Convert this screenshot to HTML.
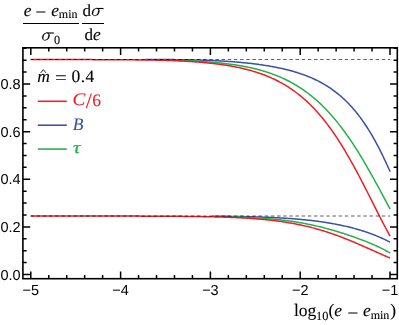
<!DOCTYPE html>
<html><head><meta charset="utf-8"><title>plot</title>
<style>html,body{margin:0;padding:0;background:#fff;width:399px;height:325px;overflow:hidden}body{position:relative;font-family:"Liberation Sans",sans-serif}</style>
</head><body>
<svg width="399" height="325" viewBox="0 0 399 325" style="position:absolute;left:0;top:0;will-change:transform;text-rendering:geometricPrecision">
<rect width="399" height="325" fill="#fff"/>
<path d="M145.0,59.53 L146.0,59.53 L147.0,59.53 L148.0,59.53 L149.0,59.53 L150.0,59.53 L151.0,59.54 L152.0,59.54 L153.0,59.54 L154.0,59.54 L155.0,59.54 L156.0,59.54 L157.0,59.54 L158.0,59.54 L159.0,59.54 L160.0,59.55 L161.0,59.55 L162.0,59.55 L163.0,59.55 L164.0,59.56 L165.0,59.56 L166.0,59.57 L167.0,59.57 L168.0,59.58 L169.0,59.59 L170.0,59.59 L171.0,59.60 L172.0,59.61 L173.0,59.62 L174.0,59.62 L175.0,59.63 L176.0,59.64 L177.0,59.65 L178.0,59.66 L179.0,59.67 L180.0,59.69 L181.0,59.70 L182.0,59.71 L183.0,59.73 L184.0,59.74 L185.0,59.75 L186.0,59.77 L187.0,59.79 L188.0,59.80 L189.0,59.82 L190.0,59.84 L191.0,59.86 L192.0,59.88 L193.0,59.90 L194.0,59.93 L195.0,59.95 L196.0,59.97 L197.0,60.00 L198.0,60.02 L199.0,60.05 L200.0,60.08 L201.0,60.11 L202.0,60.14 L203.0,60.17 L204.0,60.20 L205.0,60.24 L206.0,60.27 L207.0,60.31 L208.0,60.35 L209.0,60.39 L210.0,60.43 L211.0,60.47 L212.0,60.51 L213.0,60.56 L214.0,60.60 L215.0,60.65 L216.0,60.70 L217.0,60.75 L218.0,60.80 L219.0,60.85 L220.0,60.91 L221.0,60.96 L222.0,61.02 L223.0,61.08 L224.0,61.14 L225.0,61.20 L226.0,61.26 L227.0,61.33 L228.0,61.40 L229.0,61.47 L230.0,61.54 L231.0,61.61 L232.0,61.68 L233.0,61.76 L234.0,61.84 L235.0,61.92 L236.0,62.00 L237.0,62.09 L238.0,62.17 L239.0,62.26 L240.0,62.35 L241.0,62.44 L242.0,62.53 L243.0,62.63 L244.0,62.73 L245.0,62.83 L246.0,62.93 L247.0,63.04 L248.0,63.15 L249.0,63.26 L250.0,63.37 L251.0,63.48 L252.0,63.60 L253.0,63.72 L254.0,63.84 L255.0,63.97 L256.0,64.09 L257.0,64.22 L258.0,64.36 L259.0,64.49 L260.0,64.63 L261.0,64.77 L262.0,64.92 L263.0,65.07 L264.0,65.22 L265.0,65.37 L266.0,65.53 L267.0,65.69 L268.0,65.85 L269.0,66.02 L270.0,66.19 L271.0,66.37 L272.0,66.55 L273.0,66.73 L274.0,66.92 L275.0,67.11 L276.0,67.30 L277.0,67.50 L278.0,67.70 L279.0,67.91 L280.0,68.12 L281.0,68.34 L282.0,68.56 L283.0,68.79 L284.0,69.02 L285.0,69.25 L286.0,69.49 L287.0,69.74 L288.0,69.99 L289.0,70.25 L290.0,70.51 L291.0,70.78 L292.0,71.06 L293.0,71.34 L294.0,71.63 L295.0,71.92 L296.0,72.22 L297.0,72.53 L298.0,72.85 L299.0,73.17 L300.0,73.50 L301.0,73.84 L302.0,74.18 L303.0,74.53 L304.0,74.89 L305.0,75.26 L306.0,75.64 L307.0,76.03 L308.0,76.43 L309.0,76.83 L310.0,77.25 L311.0,77.67 L312.0,78.10 L313.0,78.55 L314.0,79.00 L315.0,79.47 L316.0,79.95 L317.0,80.44 L318.0,80.94 L319.0,81.45 L320.0,81.97 L321.0,82.51 L322.0,83.06 L323.0,83.62 L324.0,84.20 L325.0,84.79 L326.0,85.40 L327.0,86.01 L328.0,86.65 L329.0,87.30 L330.0,87.96 L331.0,88.64 L332.0,89.34 L333.0,90.05 L334.0,90.78 L335.0,91.53 L336.0,92.30 L337.0,93.08 L338.0,93.89 L339.0,94.71 L340.0,95.55 L341.0,96.41 L342.0,97.30 L343.0,98.20 L344.0,99.12 L345.0,100.07 L346.0,101.04 L347.0,102.03 L348.0,103.04 L349.0,104.08 L350.0,105.14 L351.0,106.23 L352.0,107.34 L353.0,108.47 L354.0,109.64 L355.0,110.82 L356.0,112.04 L357.0,113.28 L358.0,114.55 L359.0,115.85 L360.0,117.17 L361.0,118.53 L362.0,119.91 L363.0,121.32 L364.0,122.76 L365.0,124.24 L366.0,125.74 L367.0,127.28 L368.0,128.84 L369.0,130.44 L370.0,132.07 L371.0,133.73 L372.0,135.42 L373.0,137.15 L374.0,138.91 L375.0,140.70 L376.0,142.53 L377.0,144.39 L378.0,146.28 L379.0,148.20 L380.0,150.16 L381.0,152.15 L382.0,154.18 L383.0,156.24 L384.0,158.33 L385.0,160.45 L386.0,162.60 L387.0,164.79 L388.0,167.01 L389.0,169.26 L390.0,171.53 L390.1,171.76" fill="none" stroke="#3a51a4" stroke-width="1.5" stroke-linejoin="round"/>
<path d="M172.0,60.22 L173.0,60.24 L174.0,60.27 L175.0,60.30 L176.0,60.33 L177.0,60.36 L178.0,60.39 L179.0,60.42 L180.0,60.45 L181.0,60.49 L182.0,60.52 L183.0,60.56 L184.0,60.60 L185.0,60.64 L186.0,60.68 L187.0,60.72 L188.0,60.76 L189.0,60.80 L190.0,60.85 L191.0,60.89 L192.0,60.94 L193.0,60.99 L194.0,61.04 L195.0,61.09 L196.0,61.14 L197.0,61.20 L198.0,61.26 L199.0,61.31 L200.0,61.37 L201.0,61.43 L202.0,61.50 L203.0,61.56 L204.0,61.63 L205.0,61.70 L206.0,61.77 L207.0,61.84 L208.0,61.91 L209.0,61.99 L210.0,62.07 L211.0,62.15 L212.0,62.23 L213.0,62.31 L214.0,62.40 L215.0,62.49 L216.0,62.58 L217.0,62.68 L218.0,62.77 L219.0,62.87 L220.0,62.98 L221.0,63.08 L222.0,63.19 L223.0,63.30 L224.0,63.41 L225.0,63.53 L226.0,63.65 L227.0,63.77 L228.0,63.89 L229.0,64.02 L230.0,64.15 L231.0,64.29 L232.0,64.43 L233.0,64.57 L234.0,64.71 L235.0,64.86 L236.0,65.02 L237.0,65.17 L238.0,65.33 L239.0,65.50 L240.0,65.67 L241.0,65.84 L242.0,66.02 L243.0,66.20 L244.0,66.39 L245.0,66.58 L246.0,66.77 L247.0,66.97 L248.0,67.18 L249.0,67.39 L250.0,67.60 L251.0,67.82 L252.0,68.05 L253.0,68.28 L254.0,68.51 L255.0,68.76 L256.0,69.00 L257.0,69.26 L258.0,69.52 L259.0,69.78 L260.0,70.05 L261.0,70.33 L262.0,70.61 L263.0,70.91 L264.0,71.20 L265.0,71.51 L266.0,71.82 L267.0,72.14 L268.0,72.46 L269.0,72.80 L270.0,73.14 L271.0,73.49 L272.0,73.84 L273.0,74.21 L274.0,74.58 L275.0,74.96 L276.0,75.35 L277.0,75.75 L278.0,76.15 L279.0,76.57 L280.0,76.99 L281.0,77.43 L282.0,77.87 L283.0,78.32 L284.0,78.78 L285.0,79.26 L286.0,79.74 L287.0,80.23 L288.0,80.73 L289.0,81.25 L290.0,81.77 L291.0,82.31 L292.0,82.85 L293.0,83.41 L294.0,83.98 L295.0,84.56 L296.0,85.15 L297.0,85.76 L298.0,86.38 L299.0,87.01 L300.0,87.65 L301.0,88.30 L302.0,88.97 L303.0,89.65 L304.0,90.34 L305.0,91.05 L306.0,91.77 L307.0,92.51 L308.0,93.26 L309.0,94.02 L310.0,94.80 L311.0,95.59 L312.0,96.40 L313.0,97.22 L314.0,98.06 L315.0,98.91 L316.0,99.78 L317.0,100.66 L318.0,101.56 L319.0,102.48 L320.0,103.41 L321.0,104.36 L322.0,105.32 L323.0,106.31 L324.0,107.30 L325.0,108.32 L326.0,109.35 L327.0,110.40 L328.0,111.47 L329.0,112.55 L330.0,113.65 L331.0,114.77 L332.0,115.90 L333.0,117.06 L334.0,118.23 L335.0,119.42 L336.0,120.63 L337.0,121.85 L338.0,123.10 L339.0,124.36 L340.0,125.64 L341.0,126.94 L342.0,128.25 L343.0,129.59 L344.0,130.94 L345.0,132.31 L346.0,133.70 L347.0,135.11 L348.0,136.53 L349.0,137.98 L350.0,139.44 L351.0,140.91 L352.0,142.41 L353.0,143.92 L354.0,145.45 L355.0,147.00 L356.0,148.56 L357.0,150.14 L358.0,151.74 L359.0,153.35 L360.0,154.98 L361.0,156.63 L362.0,158.28 L363.0,159.96 L364.0,161.65 L365.0,163.35 L366.0,165.07 L367.0,166.80 L368.0,168.54 L369.0,170.29 L370.0,172.06 L371.0,173.84 L372.0,175.63 L373.0,177.43 L374.0,179.24 L375.0,181.06 L376.0,182.88 L377.0,184.72 L378.0,186.56 L379.0,188.41 L380.0,190.26 L381.0,192.12 L382.0,193.98 L383.0,195.84 L384.0,197.71 L385.0,199.58 L386.0,201.45 L387.0,203.32 L388.0,205.19 L389.0,207.05 L390.0,208.92 L390.1,209.10" fill="none" stroke="#25b04b" stroke-width="1.5" stroke-linejoin="round"/>
<path d="M30.8,59.53 L31.8,59.53 L32.8,59.53 L33.8,59.53 L34.8,59.53 L35.8,59.53 L36.8,59.53 L37.8,59.53 L38.8,59.53 L39.8,59.53 L40.8,59.53 L41.8,59.53 L42.8,59.54 L43.8,59.54 L44.8,59.54 L45.8,59.54 L46.8,59.54 L47.8,59.54 L48.8,59.54 L49.8,59.54 L50.8,59.54 L51.8,59.54 L52.8,59.55 L53.8,59.55 L54.8,59.55 L55.8,59.55 L56.8,59.55 L57.8,59.55 L58.8,59.55 L59.8,59.55 L60.8,59.56 L61.8,59.56 L62.8,59.56 L63.8,59.56 L64.8,59.56 L65.8,59.56 L66.8,59.57 L67.8,59.57 L68.8,59.57 L69.8,59.57 L70.8,59.57 L71.8,59.57 L72.8,59.58 L73.8,59.58 L74.8,59.58 L75.8,59.58 L76.8,59.58 L77.8,59.59 L78.8,59.59 L79.8,59.59 L80.8,59.59 L81.8,59.60 L82.8,59.60 L83.8,59.60 L84.8,59.60 L85.8,59.61 L86.8,59.61 L87.8,59.61 L88.8,59.61 L89.8,59.62 L90.8,59.62 L91.8,59.62 L92.8,59.63 L93.8,59.63 L94.8,59.63 L95.8,59.64 L96.8,59.64 L97.8,59.64 L98.8,59.65 L99.8,59.65 L100.8,59.66 L101.8,59.66 L102.8,59.66 L103.8,59.67 L104.8,59.67 L105.8,59.68 L106.8,59.68 L107.8,59.69 L108.8,59.69 L109.8,59.70 L110.8,59.70 L111.8,59.71 L112.8,59.71 L113.8,59.72 L114.8,59.72 L115.8,59.73 L116.8,59.73 L117.8,59.74 L118.8,59.75 L119.8,59.75 L120.8,59.76 L121.8,59.77 L122.8,59.77 L123.8,59.78 L124.8,59.79 L125.8,59.80 L126.8,59.80 L127.8,59.81 L128.8,59.82 L129.8,59.83 L130.8,59.84 L131.8,59.84 L132.8,59.85 L133.8,59.86 L134.8,59.87 L135.8,59.88 L136.8,59.89 L137.8,59.90 L138.8,59.91 L139.8,59.92 L140.8,59.93 L141.8,59.95 L142.8,59.96 L143.8,59.97 L144.8,59.98 L145.8,59.99 L146.8,60.01 L147.8,60.02 L148.8,60.03 L149.8,60.05 L150.8,60.06 L151.8,60.08 L152.8,60.09 L153.8,60.11 L154.8,60.12 L155.8,60.14 L156.8,60.15 L157.8,60.17 L158.8,60.19 L159.8,60.21 L160.8,60.22 L161.8,60.25 L162.8,60.28 L163.8,60.31 L164.8,60.34 L165.8,60.37 L166.8,60.40 L167.8,60.44 L168.8,60.47 L169.8,60.51 L170.8,60.54 L171.8,60.58 L172.8,60.62 L173.8,60.66 L174.8,60.70 L175.8,60.74 L176.8,60.78 L177.8,60.83 L178.8,60.88 L179.8,60.92 L180.8,60.97 L181.8,61.02 L182.8,61.07 L183.8,61.12 L184.8,61.18 L185.8,61.23 L186.8,61.29 L187.8,61.35 L188.8,61.41 L189.8,61.47 L190.8,61.54 L191.8,61.60 L192.8,61.67 L193.8,61.74 L194.8,61.81 L195.8,61.88 L196.8,61.96 L197.8,62.03 L198.8,62.11 L199.8,62.19 L200.8,62.28 L201.8,62.36 L202.8,62.45 L203.8,62.54 L204.8,62.63 L205.8,62.73 L206.8,62.82 L207.8,62.92 L208.8,63.02 L209.8,63.13 L210.8,63.24 L211.8,63.34 L212.8,63.46 L213.8,63.57 L214.8,63.69 L215.8,63.81 L216.8,63.94 L217.8,64.06 L218.8,64.19 L219.8,64.33 L220.8,64.46 L221.8,64.61 L222.8,64.75 L223.8,64.90 L224.8,65.05 L225.8,65.20 L226.8,65.36 L227.8,65.52 L228.8,65.69 L229.8,65.86 L230.8,66.03 L231.8,66.21 L232.8,66.39 L233.8,66.58 L234.8,66.77 L235.8,66.97 L236.8,67.17 L237.8,67.38 L238.8,67.59 L239.8,67.80 L240.8,68.02 L241.8,68.25 L242.8,68.48 L243.8,68.72 L244.8,68.96 L245.8,69.21 L246.8,69.46 L247.8,69.72 L248.8,69.99 L249.8,70.26 L250.8,70.54 L251.8,70.82 L252.8,71.12 L253.8,71.41 L254.8,71.72 L255.8,72.03 L256.8,72.35 L257.8,72.68 L258.8,73.01 L259.8,73.35 L260.8,73.70 L261.8,74.06 L262.8,74.43 L263.8,74.80 L264.8,75.18 L265.8,75.57 L266.8,75.97 L267.8,76.38 L268.8,76.80 L269.8,77.23 L270.8,77.66 L271.8,78.11 L272.8,78.56 L273.8,79.03 L274.8,79.51 L275.8,79.99 L276.8,80.49 L277.8,81.00 L278.8,81.52 L279.8,82.05 L280.8,82.59 L281.8,83.14 L282.8,83.71 L283.8,84.29 L284.8,84.88 L285.8,85.48 L286.8,86.09 L287.8,86.72 L288.8,87.36 L289.8,88.02 L290.8,88.68 L291.8,89.36 L292.8,90.06 L293.8,90.77 L294.8,91.49 L295.8,92.23 L296.8,92.99 L297.8,93.76 L298.8,94.54 L299.8,95.34 L300.8,96.16 L301.8,96.99 L302.8,97.84 L303.8,98.70 L304.8,99.58 L305.8,100.48 L306.8,101.40 L307.8,102.33 L308.8,103.28 L309.8,104.25 L310.8,105.23 L311.8,106.24 L312.8,107.26 L313.8,108.30 L314.8,109.36 L315.8,110.44 L316.8,111.54 L317.8,112.66 L318.8,113.79 L319.8,114.95 L320.8,116.12 L321.8,117.32 L322.8,118.53 L323.8,119.77 L324.8,121.03 L325.8,122.30 L326.8,123.60 L327.8,124.91 L328.8,126.25 L329.8,127.61 L330.8,128.99 L331.8,130.39 L332.8,131.81 L333.8,133.25 L334.8,134.71 L335.8,136.19 L336.8,137.69 L337.8,139.21 L338.8,140.75 L339.8,142.31 L340.8,143.90 L341.8,145.50 L342.8,147.12 L343.8,148.76 L344.8,150.42 L345.8,152.10 L346.8,153.80 L347.8,155.52 L348.8,157.25 L349.8,159.00 L350.8,160.77 L351.8,162.56 L352.8,164.36 L353.8,166.18 L354.8,168.02 L355.8,169.87 L356.8,171.73 L357.8,173.61 L358.8,175.50 L359.8,177.40 L360.8,179.32 L361.8,181.25 L362.8,183.18 L363.8,185.13 L364.8,187.08 L365.8,189.05 L366.8,191.02 L367.8,192.99 L368.8,194.97 L369.8,196.96 L370.8,198.95 L371.8,200.94 L372.8,202.93 L373.8,204.91 L374.8,206.90 L375.8,208.89 L376.8,210.87 L377.8,212.84 L378.8,214.81 L379.8,216.77 L380.8,218.72 L381.8,220.66 L382.8,222.58 L383.8,224.49 L384.8,226.39 L385.8,228.27 L386.8,230.12 L387.8,231.96 L388.8,233.78 L389.8,235.57 L390.1,236.10" fill="none" stroke="#ec1e26" stroke-width="1.5" stroke-linejoin="round"/>
<path d="M212.0,216.20 L213.0,216.21 L214.0,216.22 L215.0,216.23 L216.0,216.23 L217.0,216.24 L218.0,216.25 L219.0,216.26 L220.0,216.27 L221.0,216.28 L222.0,216.29 L223.0,216.30 L224.0,216.31 L225.0,216.32 L226.0,216.33 L227.0,216.35 L228.0,216.36 L229.0,216.37 L230.0,216.38 L231.0,216.40 L232.0,216.41 L233.0,216.43 L234.0,216.44 L235.0,216.46 L236.0,216.47 L237.0,216.49 L238.0,216.50 L239.0,216.52 L240.0,216.54 L241.0,216.56 L242.0,216.58 L243.0,216.60 L244.0,216.62 L245.0,216.64 L246.0,216.66 L247.0,216.68 L248.0,216.70 L249.0,216.73 L250.0,216.75 L251.0,216.78 L252.0,216.80 L253.0,216.83 L254.0,216.86 L255.0,216.88 L256.0,216.91 L257.0,216.94 L258.0,216.97 L259.0,217.01 L260.0,217.04 L261.0,217.07 L262.0,217.10 L263.0,217.14 L264.0,217.18 L265.0,217.21 L266.0,217.25 L267.0,217.29 L268.0,217.33 L269.0,217.37 L270.0,217.41 L271.0,217.46 L272.0,217.50 L273.0,217.55 L274.0,217.60 L275.0,217.64 L276.0,217.69 L277.0,217.75 L278.0,217.80 L279.0,217.85 L280.0,217.91 L281.0,217.96 L282.0,218.02 L283.0,218.08 L284.0,218.14 L285.0,218.20 L286.0,218.27 L287.0,218.33 L288.0,218.40 L289.0,218.47 L290.0,218.54 L291.0,218.61 L292.0,218.69 L293.0,218.76 L294.0,218.84 L295.0,218.92 L296.0,219.00 L297.0,219.08 L298.0,219.17 L299.0,219.26 L300.0,219.35 L301.0,219.44 L302.0,219.53 L303.0,219.63 L304.0,219.72 L305.0,219.82 L306.0,219.93 L307.0,220.03 L308.0,220.14 L309.0,220.25 L310.0,220.36 L311.0,220.47 L312.0,220.59 L313.0,220.71 L314.0,220.83 L315.0,220.95 L316.0,221.08 L317.0,221.21 L318.0,221.34 L319.0,221.48 L320.0,221.62 L321.0,221.76 L322.0,221.90 L323.0,222.05 L324.0,222.20 L325.0,222.35 L326.0,222.50 L327.0,222.66 L328.0,222.83 L329.0,222.99 L330.0,223.16 L331.0,223.33 L332.0,223.51 L333.0,223.69 L334.0,223.87 L335.0,224.06 L336.0,224.25 L337.0,224.44 L338.0,224.64 L339.0,224.84 L340.0,225.04 L341.0,225.25 L342.0,225.47 L343.0,225.68 L344.0,225.90 L345.0,226.13 L346.0,226.36 L347.0,226.59 L348.0,226.83 L349.0,227.08 L350.0,227.32 L351.0,227.58 L352.0,227.83 L353.0,228.09 L354.0,228.36 L355.0,228.63 L356.0,228.91 L357.0,229.19 L358.0,229.48 L359.0,229.77 L360.0,230.07 L361.0,230.37 L362.0,230.68 L363.0,231.00 L364.0,231.32 L365.0,231.64 L366.0,231.98 L367.0,232.32 L368.0,232.66 L369.0,233.01 L370.0,233.37 L371.0,233.74 L372.0,234.11 L373.0,234.49 L374.0,234.87 L375.0,235.26 L376.0,235.66 L377.0,236.07 L378.0,236.49 L379.0,236.91 L380.0,237.34 L381.0,237.78 L382.0,238.23 L383.0,238.68 L384.0,239.15 L385.0,239.62 L386.0,240.10 L387.0,240.59 L388.0,241.09 L389.0,241.60 L390.0,242.12 L390.1,242.18" fill="none" stroke="#3a51a4" stroke-width="1.5" stroke-linejoin="round"/>
<path d="M232.0,216.86 L233.0,216.89 L234.0,216.91 L235.0,216.94 L236.0,216.97 L237.0,217.00 L238.0,217.03 L239.0,217.06 L240.0,217.10 L241.0,217.13 L242.0,217.17 L243.0,217.20 L244.0,217.24 L245.0,217.28 L246.0,217.32 L247.0,217.37 L248.0,217.41 L249.0,217.45 L250.0,217.50 L251.0,217.55 L252.0,217.60 L253.0,217.65 L254.0,217.70 L255.0,217.76 L256.0,217.81 L257.0,217.87 L258.0,217.93 L259.0,217.99 L260.0,218.06 L261.0,218.12 L262.0,218.19 L263.0,218.26 L264.0,218.33 L265.0,218.40 L266.0,218.48 L267.0,218.56 L268.0,218.64 L269.0,218.72 L270.0,218.81 L271.0,218.89 L272.0,218.98 L273.0,219.08 L274.0,219.17 L275.0,219.27 L276.0,219.37 L277.0,219.47 L278.0,219.58 L279.0,219.68 L280.0,219.80 L281.0,219.91 L282.0,220.03 L283.0,220.15 L284.0,220.27 L285.0,220.39 L286.0,220.52 L287.0,220.65 L288.0,220.79 L289.0,220.93 L290.0,221.07 L291.0,221.21 L292.0,221.36 L293.0,221.51 L294.0,221.66 L295.0,221.82 L296.0,221.98 L297.0,222.14 L298.0,222.31 L299.0,222.48 L300.0,222.65 L301.0,222.83 L302.0,223.01 L303.0,223.19 L304.0,223.38 L305.0,223.57 L306.0,223.77 L307.0,223.96 L308.0,224.17 L309.0,224.37 L310.0,224.58 L311.0,224.79 L312.0,225.00 L313.0,225.22 L314.0,225.45 L315.0,225.67 L316.0,225.90 L317.0,226.13 L318.0,226.37 L319.0,226.61 L320.0,226.85 L321.0,227.09 L322.0,227.34 L323.0,227.60 L324.0,227.85 L325.0,228.11 L326.0,228.37 L327.0,228.64 L328.0,228.91 L329.0,229.18 L330.0,229.46 L331.0,229.73 L332.0,230.02 L333.0,230.30 L334.0,230.59 L335.0,230.88 L336.0,231.18 L337.0,231.47 L338.0,231.77 L339.0,232.08 L340.0,232.39 L341.0,232.70 L342.0,233.01 L343.0,233.33 L344.0,233.65 L345.0,233.97 L346.0,234.29 L347.0,234.62 L348.0,234.95 L349.0,235.29 L350.0,235.63 L351.0,235.97 L352.0,236.32 L353.0,236.66 L354.0,237.02 L355.0,237.37 L356.0,237.73 L357.0,238.09 L358.0,238.46 L359.0,238.83 L360.0,239.20 L361.0,239.58 L362.0,239.96 L363.0,240.34 L364.0,240.73 L365.0,241.12 L366.0,241.52 L367.0,241.92 L368.0,242.33 L369.0,242.74 L370.0,243.16 L371.0,243.58 L372.0,244.01 L373.0,244.44 L374.0,244.88 L375.0,245.33 L376.0,245.78 L377.0,246.24 L378.0,246.71 L379.0,247.18 L380.0,247.66 L381.0,248.15 L382.0,248.64 L383.0,249.15 L384.0,249.66 L385.0,250.19 L386.0,250.72 L387.0,251.26 L388.0,251.82 L389.0,252.38 L390.0,252.96 L390.1,253.02" fill="none" stroke="#25b04b" stroke-width="1.5" stroke-linejoin="round"/>
<path d="M30.8,216.01 L31.8,216.01 L32.8,216.01 L33.8,216.01 L34.8,216.01 L35.8,216.01 L36.8,216.01 L37.8,216.01 L38.8,216.01 L39.8,216.01 L40.8,216.01 L41.8,216.01 L42.8,216.01 L43.8,216.01 L44.8,216.01 L45.8,216.01 L46.8,216.01 L47.8,216.01 L48.8,216.01 L49.8,216.01 L50.8,216.01 L51.8,216.01 L52.8,216.01 L53.8,216.01 L54.8,216.01 L55.8,216.01 L56.8,216.01 L57.8,216.02 L58.8,216.02 L59.8,216.02 L60.8,216.02 L61.8,216.02 L62.8,216.02 L63.8,216.02 L64.8,216.02 L65.8,216.02 L66.8,216.02 L67.8,216.02 L68.8,216.02 L69.8,216.02 L70.8,216.02 L71.8,216.02 L72.8,216.02 L73.8,216.02 L74.8,216.02 L75.8,216.02 L76.8,216.02 L77.8,216.03 L78.8,216.03 L79.8,216.03 L80.8,216.03 L81.8,216.03 L82.8,216.03 L83.8,216.03 L84.8,216.03 L85.8,216.03 L86.8,216.03 L87.8,216.03 L88.8,216.03 L89.8,216.03 L90.8,216.04 L91.8,216.04 L92.8,216.04 L93.8,216.04 L94.8,216.04 L95.8,216.04 L96.8,216.04 L97.8,216.04 L98.8,216.04 L99.8,216.04 L100.8,216.05 L101.8,216.05 L102.8,216.05 L103.8,216.05 L104.8,216.05 L105.8,216.05 L106.8,216.05 L107.8,216.05 L108.8,216.06 L109.8,216.06 L110.8,216.06 L111.8,216.06 L112.8,216.06 L113.8,216.06 L114.8,216.07 L115.8,216.07 L116.8,216.07 L117.8,216.07 L118.8,216.07 L119.8,216.07 L120.8,216.08 L121.8,216.08 L122.8,216.08 L123.8,216.08 L124.8,216.08 L125.8,216.09 L126.8,216.09 L127.8,216.09 L128.8,216.09 L129.8,216.10 L130.8,216.10 L131.8,216.10 L132.8,216.10 L133.8,216.11 L134.8,216.11 L135.8,216.11 L136.8,216.11 L137.8,216.12 L138.8,216.12 L139.8,216.12 L140.8,216.13 L141.8,216.13 L142.8,216.13 L143.8,216.14 L144.8,216.14 L145.8,216.14 L146.8,216.15 L147.8,216.15 L148.8,216.16 L149.8,216.16 L150.8,216.16 L151.8,216.17 L152.8,216.17 L153.8,216.18 L154.8,216.18 L155.8,216.19 L156.8,216.19 L157.8,216.20 L158.8,216.20 L159.8,216.21 L160.8,216.21 L161.8,216.22 L162.8,216.22 L163.8,216.23 L164.8,216.24 L165.8,216.24 L166.8,216.25 L167.8,216.25 L168.8,216.26 L169.8,216.27 L170.8,216.27 L171.8,216.28 L172.8,216.29 L173.8,216.30 L174.8,216.30 L175.8,216.31 L176.8,216.32 L177.8,216.33 L178.8,216.34 L179.8,216.35 L180.8,216.36 L181.8,216.36 L182.8,216.37 L183.8,216.38 L184.8,216.39 L185.8,216.40 L186.8,216.41 L187.8,216.43 L188.8,216.44 L189.8,216.45 L190.8,216.46 L191.8,216.47 L192.8,216.48 L193.8,216.50 L194.8,216.51 L195.8,216.52 L196.8,216.54 L197.8,216.55 L198.8,216.56 L199.8,216.58 L200.8,216.59 L201.8,216.61 L202.8,216.63 L203.8,216.64 L204.8,216.66 L205.8,216.68 L206.8,216.70 L207.8,216.72 L208.8,216.74 L209.8,216.76 L210.8,216.78 L211.8,216.81 L212.8,216.83 L213.8,216.85 L214.8,216.88 L215.8,216.90 L216.8,216.93 L217.8,216.96 L218.8,216.98 L219.8,217.01 L220.8,217.04 L221.8,217.07 L222.8,217.10 L223.8,217.13 L224.8,217.17 L225.8,217.20 L226.8,217.24 L227.8,217.27 L228.8,217.31 L229.8,217.35 L230.8,217.38 L231.8,217.43 L232.8,217.47 L233.8,217.51 L234.8,217.55 L235.8,217.60 L236.8,217.64 L237.8,217.69 L238.8,217.74 L239.8,217.79 L240.8,217.84 L241.8,217.89 L242.8,217.95 L243.8,218.00 L244.8,218.06 L245.8,218.12 L246.8,218.18 L247.8,218.24 L248.8,218.31 L249.8,218.37 L250.8,218.44 L251.8,218.51 L252.8,218.58 L253.8,218.65 L254.8,218.73 L255.8,218.80 L256.8,218.88 L257.8,218.96 L258.8,219.05 L259.8,219.13 L260.8,219.22 L261.8,219.31 L262.8,219.40 L263.8,219.49 L264.8,219.59 L265.8,219.69 L266.8,219.79 L267.8,219.89 L268.8,220.00 L269.8,220.11 L270.8,220.22 L271.8,220.33 L272.8,220.45 L273.8,220.57 L274.8,220.69 L275.8,220.82 L276.8,220.94 L277.8,221.08 L278.8,221.21 L279.8,221.35 L280.8,221.49 L281.8,221.63 L282.8,221.78 L283.8,221.93 L284.8,222.08 L285.8,222.24 L286.8,222.40 L287.8,222.56 L288.8,222.73 L289.8,222.90 L290.8,223.07 L291.8,223.25 L292.8,223.43 L293.8,223.61 L294.8,223.80 L295.8,223.99 L296.8,224.19 L297.8,224.39 L298.8,224.59 L299.8,224.80 L300.8,225.01 L301.8,225.23 L302.8,225.45 L303.8,225.67 L304.8,225.90 L305.8,226.13 L306.8,226.36 L307.8,226.60 L308.8,226.85 L309.8,227.10 L310.8,227.35 L311.8,227.61 L312.8,227.87 L313.8,228.13 L314.8,228.40 L315.8,228.68 L316.8,228.95 L317.8,229.24 L318.8,229.52 L319.8,229.82 L320.8,230.11 L321.8,230.41 L322.8,230.71 L323.8,231.02 L324.8,231.34 L325.8,231.65 L326.8,231.97 L327.8,232.30 L328.8,232.63 L329.8,232.96 L330.8,233.30 L331.8,233.64 L332.8,233.99 L333.8,234.34 L334.8,234.69 L335.8,235.05 L336.8,235.42 L337.8,235.78 L338.8,236.15 L339.8,236.53 L340.8,236.90 L341.8,237.28 L342.8,237.67 L343.8,238.06 L344.8,238.45 L345.8,238.84 L346.8,239.24 L347.8,239.64 L348.8,240.05 L349.8,240.46 L350.8,240.87 L351.8,241.28 L352.8,241.70 L353.8,242.12 L354.8,242.54 L355.8,242.96 L356.8,243.39 L357.8,243.82 L358.8,244.25 L359.8,244.69 L360.8,245.12 L361.8,245.56 L362.8,246.00 L363.8,246.44 L364.8,246.88 L365.8,247.32 L366.8,247.76 L367.8,248.21 L368.8,248.65 L369.8,249.10 L370.8,249.55 L371.8,249.99 L372.8,250.44 L373.8,250.89 L374.8,251.34 L375.8,251.78 L376.8,252.23 L377.8,252.68 L378.8,253.12 L379.8,253.57 L380.8,254.01 L381.8,254.45 L382.8,254.90 L383.8,255.33 L384.8,255.77 L385.8,256.21 L386.8,256.64 L387.8,257.08 L388.8,257.50 L389.8,257.93 L390.1,258.06" fill="none" stroke="#ec1e26" stroke-width="1.5" stroke-linejoin="round"/>
<line x1="30.5" y1="59.5" x2="390" y2="59.5" stroke="#000" stroke-width="0.62" stroke-dasharray="3.5 2.663"/>
<line x1="30.5" y1="216.0" x2="390" y2="216.0" stroke="#000" stroke-width="0.62" stroke-dasharray="3.5 2.663"/>
<path d="M30.80,278.7 v-7.3 M30.80,47.8 v7.3 M48.76,278.7 v-3.6 M48.76,47.8 v3.6 M66.72,278.7 v-3.6 M66.72,47.8 v3.6 M84.68,278.7 v-3.6 M84.68,47.8 v3.6 M102.64,278.7 v-3.6 M102.64,47.8 v3.6 M120.60,278.7 v-7.3 M120.60,47.8 v7.3 M138.56,278.7 v-3.6 M138.56,47.8 v3.6 M156.52,278.7 v-3.6 M156.52,47.8 v3.6 M174.48,278.7 v-3.6 M174.48,47.8 v3.6 M192.44,278.7 v-3.6 M192.44,47.8 v3.6 M210.40,278.7 v-7.3 M210.40,47.8 v7.3 M228.36,278.7 v-3.6 M228.36,47.8 v3.6 M246.32,278.7 v-3.6 M246.32,47.8 v3.6 M264.28,278.7 v-3.6 M264.28,47.8 v3.6 M282.24,278.7 v-3.6 M282.24,47.8 v3.6 M300.20,278.7 v-7.3 M300.20,47.8 v7.3 M318.16,278.7 v-3.6 M318.16,47.8 v3.6 M336.12,278.7 v-3.6 M336.12,47.8 v3.6 M354.08,278.7 v-3.6 M354.08,47.8 v3.6 M372.04,278.7 v-3.6 M372.04,47.8 v3.6 M390.00,278.7 v-7.3 M390.00,47.8 v7.3 M22.9,274.50 h7.3 M397.3,274.50 h-7.3 M22.9,262.60 h3.7 M397.3,262.60 h-3.7 M22.9,250.69 h3.7 M397.3,250.69 h-3.7 M22.9,238.78 h3.7 M397.3,238.78 h-3.7 M22.9,226.88 h7.3 M397.3,226.88 h-7.3 M22.9,214.97 h3.7 M397.3,214.97 h-3.7 M22.9,203.07 h3.7 M397.3,203.07 h-3.7 M22.9,191.16 h3.7 M397.3,191.16 h-3.7 M22.9,179.26 h7.3 M397.3,179.26 h-7.3 M22.9,167.36 h3.7 M397.3,167.36 h-3.7 M22.9,155.45 h3.7 M397.3,155.45 h-3.7 M22.9,143.54 h3.7 M397.3,143.54 h-3.7 M22.9,131.64 h7.3 M397.3,131.64 h-7.3 M22.9,119.73 h3.7 M397.3,119.73 h-3.7 M22.9,107.83 h3.7 M397.3,107.83 h-3.7 M22.9,95.93 h3.7 M397.3,95.93 h-3.7 M22.9,84.02 h7.3 M397.3,84.02 h-7.3 M22.9,72.11 h3.7 M397.3,72.11 h-3.7 M22.9,60.21 h3.7 M397.3,60.21 h-3.7 M22.9,48.30 h3.7 M397.3,48.30 h-3.7" stroke="#000" stroke-width="1.5" fill="none"/>
<rect x="22.9" y="47.8" width="374.40000000000003" height="230.89999999999998" fill="none" stroke="#000" stroke-width="1.6"/>
<line x1="37.8" y1="101.3" x2="66.8" y2="101.3" stroke="#ec1e26" stroke-width="1.55"/>
<line x1="37.8" y1="125.2" x2="66.8" y2="125.2" stroke="#3a51a4" stroke-width="1.55"/>
<line x1="37.8" y1="149.1" x2="66.8" y2="149.1" stroke="#25b04b" stroke-width="1.55"/>
<rect x="23" y="23" width="56" height="1" fill="#000"/>
<rect x="82" y="23" width="22" height="1" fill="#000"/>
<text x="30.8" y="294.5" text-anchor="middle" font-family="Liberation Sans, sans-serif" font-size="14.5">−5</text>
<text x="120.6" y="294.5" text-anchor="middle" font-family="Liberation Sans, sans-serif" font-size="14.5">−4</text>
<text x="210.4" y="294.5" text-anchor="middle" font-family="Liberation Sans, sans-serif" font-size="14.5">−3</text>
<text x="300.2" y="294.5" text-anchor="middle" font-family="Liberation Sans, sans-serif" font-size="14.5">−2</text>
<text x="390.0" y="294.5" text-anchor="middle" font-family="Liberation Sans, sans-serif" font-size="14.5">−1</text>
<text x="20.7" y="279.6" text-anchor="end" font-family="Liberation Sans, sans-serif" font-size="14.5">0.0</text>
<text x="20.7" y="232.0" text-anchor="end" font-family="Liberation Sans, sans-serif" font-size="14.5">0.2</text>
<text x="20.7" y="184.4" text-anchor="end" font-family="Liberation Sans, sans-serif" font-size="14.5">0.4</text>
<text x="20.7" y="136.7" text-anchor="end" font-family="Liberation Sans, sans-serif" font-size="14.5">0.6</text>
<text x="20.7" y="89.1" text-anchor="end" font-family="Liberation Sans, sans-serif" font-size="14.5">0.8</text>
<text x="294.0" y="316.2" font-family="Liberation Serif, serif" font-size="17.5" fill="#000" stroke="#000" stroke-width="0.1">log</text>
<text x="316.0" y="320.3" font-family="Liberation Serif, serif" font-size="12.3" fill="#000" stroke="#000" stroke-width="0.1">10</text>
<text x="328.4" y="316.2" font-family="Liberation Serif, serif" font-size="17.5" fill="#000" stroke="#000" stroke-width="0.1">(</text>
<text x="334.2" y="316.2" font-family="Liberation Serif, serif" font-size="17.5" font-style="italic" fill="#000" stroke="#000" stroke-width="0.1">e</text>
<text x="348.6" y="316.59999999999997" font-family="Liberation Serif, serif" font-size="17.5" fill="#000" stroke="#000" stroke-width="0.1">–</text>
<text x="363.1" y="316.2" font-family="Liberation Serif, serif" font-size="17.5" font-style="italic" fill="#000" stroke="#000" stroke-width="0.1">e</text>
<text x="370.7" y="318.9" font-family="Liberation Serif, serif" font-size="12.0" fill="#000" stroke="#000" stroke-width="0.1">min</text>
<text x="390.3" y="316.2" font-family="Liberation Serif, serif" font-size="17.5" fill="#000" stroke="#000" stroke-width="0.1">)</text>
<text x="23.8" y="15.9" font-family="Liberation Serif, serif" font-size="17.5" font-style="italic" fill="#000" stroke="#000" stroke-width="0.1">e</text>
<text x="36.4" y="16.3" font-family="Liberation Serif, serif" font-size="17.5" fill="#000" stroke="#000" stroke-width="0.1">–</text>
<text x="51.3" y="15.9" font-family="Liberation Serif, serif" font-size="17.5" font-style="italic" fill="#000" stroke="#000" stroke-width="0.1">e</text>
<text x="58.8" y="18.3" font-family="Liberation Serif, serif" font-size="12.0" fill="#000" stroke="#000" stroke-width="0.1">min</text>
<g transform="translate(45.90,36.55) skewX(-14)"><path fill-rule="evenodd" d="M-3.65,0 a3.65,3.85 0 1,0 7.3,0 a3.65,3.85 0 1,0 -7.3,0 Z M-2.3,0.3 a2.35,2.9 10 1,0 4.6,-0.6 a2.35,2.9 10 1,0 -4.6,0.6 Z" fill="#000" stroke="#000" stroke-width="0.25"/></g>
<path d="M46.20,32.45 H53.60 V33.80 L52.90,33.55 H47.70 Z" fill="#000" stroke="#000" stroke-width="0.15"/>
<text x="54.0" y="43.7" font-family="Liberation Serif, serif" font-size="12.3" fill="#000" stroke="#000" stroke-width="0.1">0</text>
<text x="82.4" y="15.700000000000001" font-family="Liberation Serif, serif" font-size="17.0" fill="#000" stroke="#000" stroke-width="0.1">d</text>
<g transform="translate(95.70,12.05) skewX(-14)"><path fill-rule="evenodd" d="M-3.65,0 a3.65,3.85 0 1,0 7.3,0 a3.65,3.85 0 1,0 -7.3,0 Z M-2.3,0.3 a2.35,2.9 10 1,0 4.6,-0.6 a2.35,2.9 10 1,0 -4.6,0.6 Z" fill="#000" stroke="#000" stroke-width="0.25"/></g>
<path d="M96.00,7.95 H103.40 V9.30 L102.70,9.05 H97.50 Z" fill="#000" stroke="#000" stroke-width="0.15"/>
<text x="84.4" y="40.199999999999996" font-family="Liberation Serif, serif" font-size="17.0" fill="#000" stroke="#000" stroke-width="0.1">d</text>
<text x="93.0" y="40.4" font-family="Liberation Serif, serif" font-size="17.5" font-style="italic" fill="#000" stroke="#000" stroke-width="0.1">e</text>
<text x="37.3" y="81.8" font-family="Liberation Serif, serif" font-size="17.5" font-style="italic" fill="#000" stroke="#000" stroke-width="0.1">m</text>
<path d="M40.6,72.9 L43.3,69.7 L46.0,72.9" fill="none" stroke="#000" stroke-width="0.85" stroke-linejoin="miter"/>
<text transform="translate(55.0,84.3) scale(1.2,1.08)" font-family="Liberation Serif, serif" font-size="17.5">=</text>
<text x="71.6" y="81.8" font-family="Liberation Serif, serif" font-size="17.5" fill="#000" stroke="#000" stroke-width="0.1" letter-spacing="0.35">0.4</text>
<text transform="translate(72.4,105.4) scale(1.1,1)" font-family="Liberation Serif, serif" font-size="17.5" font-style="italic" fill="#ec1e26" stroke="#ec1e26" stroke-width="0.1">C</text>
<text x="85.7" y="108.2" font-family="Liberation Serif, serif" font-size="22" fill="#ec1e26" stroke="#ec1e26" stroke-width="0.1">/</text>
<text x="92.2" y="105.8" font-family="Liberation Serif, serif" font-size="17.5" fill="#ec1e26" stroke="#ec1e26" stroke-width="0.1">6</text>
<text x="72.8" y="129.7" font-family="Liberation Serif, serif" font-size="17.5" font-style="italic" fill="#3a51a4" stroke="#3a51a4" stroke-width="0.1">B</text>
<text transform="translate(73.1,153.3) scale(1.2,0.96)" font-family="Liberation Serif, serif" font-size="17.5" font-style="italic" fill="#25b04b" stroke="#25b04b" stroke-width="0.25">τ</text>
</svg>
</body></html>
